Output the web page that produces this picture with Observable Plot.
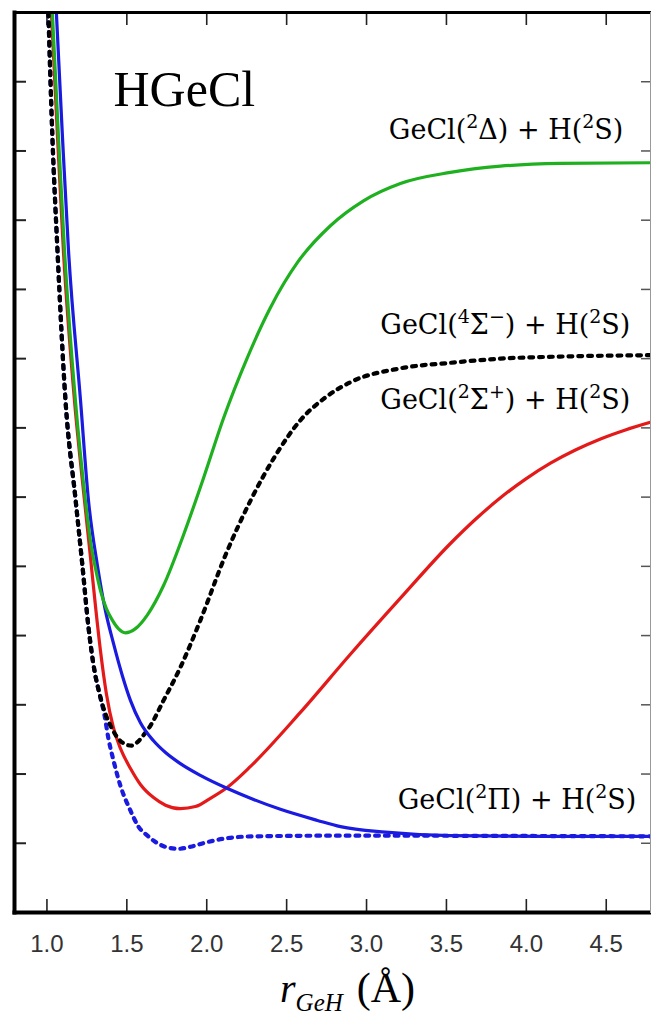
<!DOCTYPE html>
<html><head><meta charset="utf-8">
<script src="https://cdn.jsdelivr.net/npm/d3@7"></script>
<script src="https://cdn.jsdelivr.net/npm/@observablehq/plot@0.6"></script>
<style>
html,body{margin:0;padding:0;background:#fff;}
#wrap{position:relative;width:651px;height:1016px;overflow:hidden;}
#xtitle{position:absolute;left:280px;top:967px;font-family:"Liberation Serif",serif;color:#000;white-space:nowrap;line-height:1;}
#xtitle i{font-size:40px;}
#xtitle sub{font-size:25px;font-style:italic;vertical-align:-9px;}
#xtitle span{font-size:42px;margin-left:14px;}
</style></head><body>
<div id="wrap"><div id="chart"></div>
<div id="xtitle"><i>r</i><sub>GeH</sub><span>(Å)</span></div></div>
<script>
// tick values
const xTicks = [1.0, 1.5, 2.0, 2.5, 3.0, 3.5, 4.0, 4.5];
const yTicks = d3.range(0, 14);

// GeCl(2Δ) + H(2S) — green
const rDelta = [1.034,1.072,1.110,1.178,1.241,1.272,1.304,1.335,1.372,1.410,1.447,1.491,1.554,1.629,1.729,1.854,1.979,2.105,2.255,2.399,2.568,2.774,2.981,3.212,3.525,3.838,4.213,4.776];
const eDelta = [13.00,11.21,9.56,7.40,5.95,5.37,4.97,4.65,4.39,4.22,4.10,4.04,4.10,4.30,4.72,5.45,6.27,7.14,8.02,8.74,9.39,9.92,10.28,10.53,10.69,10.78,10.82,10.83];

// GeCl(2Π) + H(2S) — blue solid
const rPi = [1.059,1.097,1.135,1.210,1.260,1.316,1.366,1.416,1.472,1.523,1.585,1.667,1.742,1.835,1.960,2.130,2.274,2.461,2.693,2.837,3.118,3.525,4.151,4.776];
const ePi = [13.00,11.21,9.56,7.40,5.95,5.01,4.36,3.89,3.42,3.06,2.74,2.48,2.31,2.15,1.98,1.79,1.65,1.49,1.33,1.24,1.16,1.11,1.10,1.10];

// GeCl(2Π) + H(2S) — blue dotted
const rPi2 = [1.009,1.034,1.066,1.116,1.178,1.222,1.260,1.297,1.329,1.360,1.385,1.416,1.460,1.523,1.573,1.629,1.692,1.754,1.823,1.898,1.992,2.117,2.292,2.837,4.776];
const ePi2 = [13.00,11.21,9.56,7.40,5.99,5.01,4.12,3.50,3.16,2.85,2.51,2.20,1.83,1.47,1.24,1.11,1.00,0.94,0.92,0.95,1.01,1.07,1.10,1.11,1.10];

// GeCl(2Σ+) + H(2S) — red
const rSigP = [1.028,1.066,1.103,1.172,1.235,1.272,1.304,1.335,1.372,1.416,1.460,1.523,1.585,1.667,1.742,1.835,1.929,2.023,2.130,2.274,2.586,2.899,3.212,3.525,3.682,3.838,3.995,4.151,4.307,4.464,4.620,4.776];
const eSigP = [13.00,11.21,9.56,7.40,5.95,5.14,4.42,3.78,3.16,2.67,2.37,2.08,1.85,1.66,1.55,1.50,1.53,1.65,1.81,2.11,2.89,3.73,4.54,5.33,5.68,5.99,6.26,6.49,6.68,6.84,6.97,7.08];

// GeCl(4Σ−) + H(2S) — black dotted
const rSigM = [1.009,1.034,1.066,1.116,1.178,1.222,1.260,1.297,1.329,1.366,1.404,1.447,1.491,1.529,1.566,1.604,1.648,1.729,1.835,1.960,2.117,2.274,2.430,2.586,2.743,2.899,3.212,3.525,3.838,4.213,4.776];
const eSigM = [13.00,11.21,9.56,7.40,5.99,5.01,4.12,3.50,3.16,2.87,2.67,2.51,2.43,2.41,2.46,2.56,2.70,3.06,3.54,4.22,5.16,5.95,6.60,7.11,7.44,7.66,7.86,7.94,8.00,8.03,8.05];

const labelDelta = "GeCl(²Δ) + H(²S)";
const labelSigM = "GeCl(⁴Σ⁻) + H(²S)";
const labelSigP = "GeCl(²Σ⁺) + H(²S)";
const labelPi = "GeCl(²Π) + H(²S)";
const title = "HGeCl";

const pts = (r, e) => r.map((x, i) => ({r: x, e: e[i]}));
const dDelta = pts(rDelta, eDelta), dPi = pts(rPi, ePi), dPi2 = pts(rPi2, ePi2),
      dSigP = pts(rSigP, eSigP), dSigM = pts(rSigM, eSigM);
const last = d => [d[d.length - 1]];

const lineOpts = {x: "r", y: "e", curve: "monotone-x", clip: true};
const dotted = {strokeWidth: 4.2, strokeDasharray: "3.8,6"};
const labSize = 27;
const labFont = {fontFamily: "DejaVu Serif", fontSize: labSize, textAnchor: "end", fill: "#000"};

const chart = Plot.plot({
  width: 651, height: 965,
  marginLeft: 14, marginRight: 1, marginTop: 12, marginBottom: 53,
  x: {domain: [0.797, 4.777]},
  y: {domain: [0, 13]},
  style: {background: "#fff", color: "#000"},
  marks: [
    Plot.axisX(xTicks, {anchor: "bottom", tickSize: -13, tickFormat: () => "", label: null, strokeWidth: 1.6, stroke: "#222"}),
    Plot.axisX(xTicks, {anchor: "top", tickSize: -12, tickFormat: () => "", label: null, strokeWidth: 1.6, stroke: "#222"}),
    Plot.axisX(xTicks, {anchor: "bottom", tickSize: 0, tickPadding: 22, tickFormat: d3.format(".1f"), label: null, fontSize: 24, fontFamily: "Liberation Sans", fill: "#333"}),
    Plot.axisY(yTicks, {anchor: "left", tickSize: -12, tickFormat: () => "", label: null, strokeWidth: 2, stroke: "#222"}),
    Plot.axisY(yTicks, {anchor: "right", tickSize: -10, tickFormat: () => "", label: null, strokeWidth: 1.5, stroke: "#555"}),
    Plot.line(dSigP, {...lineOpts, stroke: "#e41a1a", strokeWidth: 3.2}),
    Plot.line(dPi2, {...lineOpts, stroke: "#1a1ae0", ...dotted}),
    Plot.line(dSigM, {...lineOpts, stroke: "#000", ...dotted}),
    Plot.line(dPi, {...lineOpts, stroke: "#1a1ae0", strokeWidth: 3.2}),
    Plot.line(dDelta, {...lineOpts, stroke: "#1fb01f", strokeWidth: 3.2}),
    Plot.frame({anchor: "left", strokeWidth: 4, stroke: "#000"}),
    Plot.frame({anchor: "bottom", strokeWidth: 4, stroke: "#000"}),
    Plot.frame({anchor: "top", strokeWidth: 3, stroke: "#000"}),
    Plot.frame({anchor: "right", strokeWidth: 1, stroke: "#999"}),
    Plot.text(last(dDelta), {x: "r", y: "e", text: () => labelDelta, dx: -27, dy: -32, ...labFont}),
    Plot.text(last(dSigM), {x: "r", y: "e", text: () => labelSigM, dx: -20, dy: -30, ...labFont}),
    Plot.text(last(dSigP), {x: "r", y: "e", text: () => labelSigP, dx: -20, dy: -22, ...labFont}),
    Plot.text(last(dPi), {x: "r", y: "e", text: () => labelPi, dx: -14, dy: -36, ...labFont}),
    Plot.text([title], {frameAnchor: "top-left", dx: 99, dy: 58, textAnchor: "start", fontSize: 50, fontFamily: "Liberation Serif", fill: "#000"})
  ]
});

// typeset the term-symbol superscripts as raised tspans
const supMap = {"²": "2", "⁴": "4", "⁺": "+", "⁻": "−"};
const shift = Math.round(labSize * 0.42);
d3.select(chart).selectAll("text").each(function () {
  const s = this.textContent;
  if (!s.includes("GeCl")) return;
  const runs = [];
  for (const ch of s) {
    const sup = ch in supMap;
    const c = sup ? supMap[ch] : ch;
    if (runs.length && runs[runs.length - 1].sup === sup) runs[runs.length - 1].t += c;
    else runs.push({sup, t: c});
  }
  const el = d3.select(this);
  el.text(null);
  let raised = false;
  for (const run of runs) {
    const ts = el.append("tspan").text(run.t);
    if (run.sup) { ts.attr("font-size", Math.round(labSize * 0.7)).attr("dy", -shift); raised = true; }
    else if (raised) { ts.attr("dy", shift); raised = false; }
  }
});

document.getElementById("chart").appendChild(chart);
</script>
</body></html>
